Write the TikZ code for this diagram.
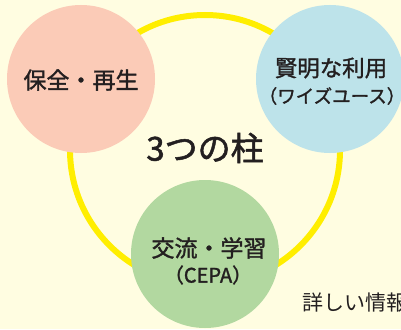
\documentclass[tikz,border=0pt]{standalone}
\usepackage{fontspec}
\newfontfamily\jp{Noto Sans CJK JP}
\newfontfamily\jpb{Noto Sans CJK JP}[FakeBold=1.5]
\definecolor{bg}{HTML}{FFFDE1}
\definecolor{pinkc}{HTML}{FBCBB7}
\definecolor{bluec}{HTML}{BDE3EA}
\definecolor{greenc}{HTML}{B2D8A0}
\definecolor{ringc}{HTML}{FFEE00}
\definecolor{txt}{HTML}{231F20}
\begin{document}
\begin{tikzpicture}[x=1pt,y=-1pt,
  pillar/.style={circle,minimum size=148pt,inner sep=0pt},
  lbl/.style={text=txt,align=center,inner sep=0pt}]
\useasboundingbox (0,0) rectangle (401,329);
\clip (0,0) rectangle (401,329);
\fill[bg] (0,0) rectangle (401,329);
\coordinate (ringc) at (205,150);
\draw[ringc,line width=6pt] (ringc) circle[radius=135pt];
\node[pillar,fill=pinkc] (p1) at (81,79) {};
\node[pillar,fill=bluec] (p2) at (330,79) {};
\node[pillar,fill=greenc] (p3) at (205,254) {};
\node[lbl,font=\jpb\fontsize{23}{27}\selectfont] (t1) at (81,80) {保全・再生};
\node[lbl,font=\jpb\fontsize{22.5}{26}\selectfont] (t2a) at (331,68) {賢明な利用};
\node[lbl,font=\jpb\fontsize{18.5}{22}\selectfont] (t2b) at (332,96) {（ワイズユース）};
\node[lbl,font=\jpb\fontsize{23}{27}\selectfont] (t3a) at (209,248) {交流・学習};
\node[lbl,font=\jpb\fontsize{20}{24}\selectfont] (t3b) at (208,275) {（CEPA）};
\node[lbl,font=\jpb\fontsize{33}{38}\selectfont] (title) at (205,148) {3つの柱};
\node[lbl,font=\jp\fontsize{21}{25}\selectfont,anchor=west] (more) at (302,303) {詳しい情報};
\end{tikzpicture}
\end{document}
